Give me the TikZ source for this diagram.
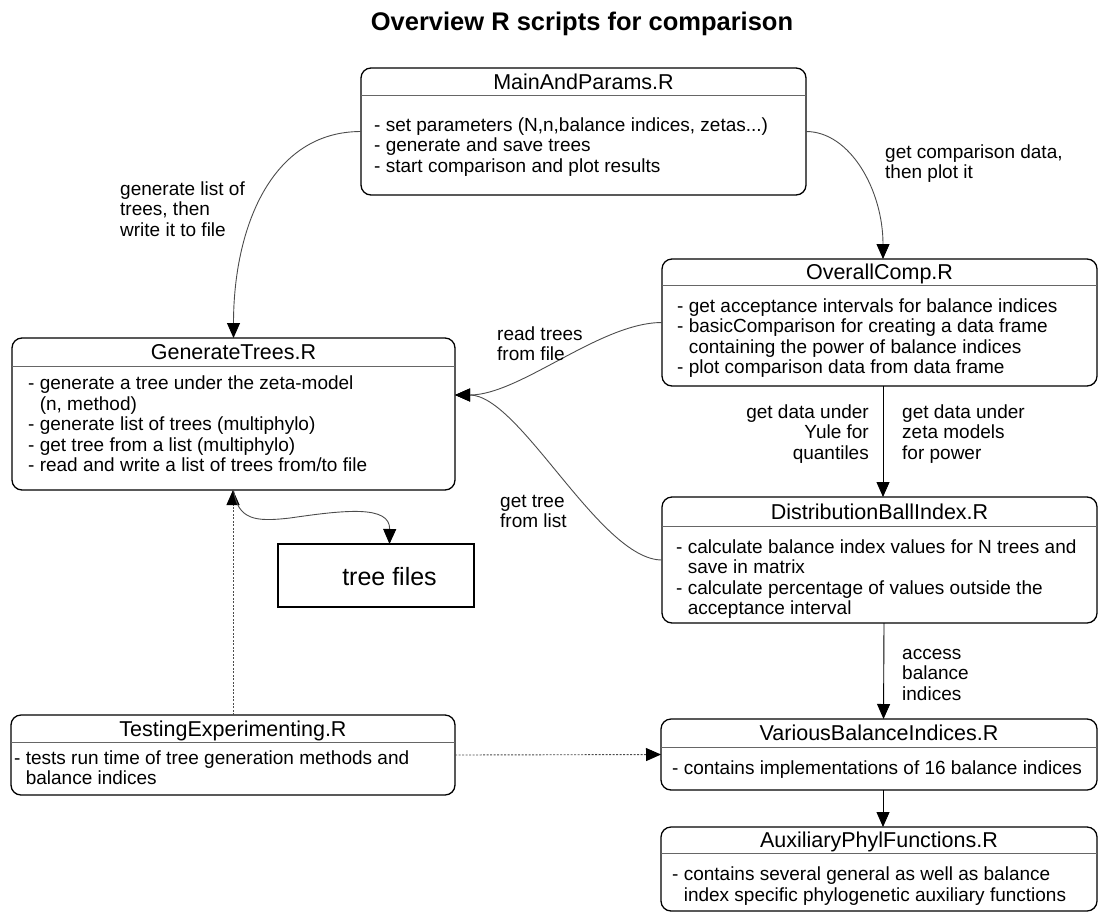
\documentclass[tikz,border=0pt]{standalone}
\usepackage{fontspec}
\setmainfont{Liberation Sans}
\usetikzlibrary{arrows.meta,calc}
\begin{document}
\begin{tikzpicture}[x=1pt,y=-1pt,
  box/.style={draw=black,line width=1.3pt,rounded corners=10pt,inner sep=0pt,outer sep=0pt,anchor=north west},
  filebox/.style={draw=black,line width=1.3pt,inner sep=0pt,outer sep=0pt,anchor=north west},
  sep/.style={draw=black!60,line width=0.9pt},
  ttl/.style={font=\fontsize{21.5}{24}\selectfont,anchor=base,inner sep=0pt},
  body/.style={font=\fontsize{19}{20.5}\selectfont,align=left,anchor=west,inner sep=0pt},
  lbl/.style={font=\fontsize{19}{20.5}\selectfont,align=left,anchor=north west,inner sep=0pt},
  lblr/.style={font=\fontsize{19}{20.5}\selectfont,align=right,anchor=north east,inner sep=0pt},
  tip/.style={-{Triangle[length=15pt,width=13pt,color=black]}},
  arr/.style={draw=black,line width=0.9pt,tip},
  carr/.style={draw=black!70,line width=0.9pt,tip},
  darr/.style={draw=black!70,line width=0.9pt,dash pattern=on 2pt off 1.5pt,tip},
]
\useasboundingbox (0,0) rectangle (1099,913);
\newcommand{\ind}{\hphantom{- }}

\node[font=\bfseries\fontsize{25.5}{28}\selectfont,anchor=base,inner sep=0pt] (title) at (582,30) {Overview R scripts for comparison};

% MainAndParams
\node[box,minimum width=445pt,minimum height=127pt] (main) at (361,68) {};
\draw[sep] (361,95) -- (806,95);
\node[ttl] (mainT) at (583.5,89.2) {MainAndParams.R};
\node[body] (mainB) at (374,147.7) {\strut- set parameters (N,n,balance indices, zetas...)\\\strut- generate and save trees\\\strut- start comparison and plot results};

% GenerateTrees
\node[box,minimum width=443pt,minimum height=152pt] (gen) at (12,338) {};
\draw[sep] (12,366) -- (455,366);
\node[ttl] (genT) at (233.5,359.7) {GenerateTrees.R};
\node[body] (genB) at (28,426.7) {\strut- generate a tree under the zeta-model\\\strut\ind(n, method)\\\strut- generate list of trees (multiphylo)\\\strut- get tree from a list (multiphylo)\\\strut- read and write a list of trees from/to file};

% OverallComp
\node[box,minimum width=435pt,minimum height=127pt] (overall) at (662,259) {};
\draw[sep] (662,285) -- (1097,285);
\node[ttl] (overallT) at (879.5,279.7) {OverallComp.R};
\node[body] (overallB) at (677,338.7) {\strut- get acceptance intervals for balance indices\\\strut- basicComparison for creating a data frame\\\strut\ind containing the power of balance indices\\\strut- plot comparison data from data frame};

% DistributionBallIndex
\node[box,minimum width=435pt,minimum height=126pt] (dist) at (662,497) {};
\draw[sep] (662,526) -- (1097,526);
\node[ttl] (distT) at (879.5,519.2) {DistributionBallIndex.R};
\node[body] (distB) at (676,579.7) {\strut- calculate balance index values for N trees and\\\strut\ind save in matrix\\\strut- calculate percentage of values outside the\\\strut\ind acceptance interval};

% VariousBalanceIndices
\node[box,minimum width=436pt,minimum height=71pt] (various) at (661,719) {};
\draw[sep] (661,747) -- (1097,747);
\node[ttl] (variousT) at (879,740.7) {VariousBalanceIndices.R};
\node[body] (variousB) at (672,770.7) {\strut- contains implementations of 16 balance indices};

% AuxiliaryPhylFunctions
\node[box,minimum width=436pt,minimum height=84pt] (aux) at (661,827) {};
\draw[sep] (661,853) -- (1097,853);
\node[ttl] (auxT) at (879,847.7) {AuxiliaryPhylFunctions.R};
\node[body] (auxB) at (672,886.7) {\strut- contains several general as well as balance\\\strut\ind index specific phylogenetic auxiliary functions};

% TestingExperimenting
\node[box,minimum width=444pt,minimum height=80pt] (test) at (11,715) {};
\draw[sep] (11,742) -- (455,742);
\node[ttl] (testT) at (233,736.2) {TestingExperimenting.R};
\node[body] (testB) at (14,770.2) {\strut- tests run time of tree generation methods and\\\strut\ind balance indices};

% tree files
\node[filebox,minimum width=196pt,minimum height=63pt] (tree) at (278,544) {};
\node[font=\fontsize{25}{28}\selectfont,anchor=base,inner sep=0pt] (treeT) at (389.5,585) {tree files};

% connectors
\draw[carr] (main.west) .. controls (270,131.5) and (233.5,230) .. (gen.north);
\draw[carr] (main.east) .. controls (850,131.5) and (883,190) .. ([xshift=3.5pt]overall.north);
\draw[carr] (overall.west) .. controls (600,322.5) and (520,395) .. ([yshift=19pt]gen.east);
\draw[carr] (dist.west) .. controls (600,560) and (520,395) .. ([yshift=19pt]gen.east);
\draw[arr] ([xshift=3.5pt]overall.south) -- ([xshift=3.5pt]dist.north);
\draw[arr] ([xshift=4.5pt]dist.south) -- ([xshift=4.5pt]various.north);
\draw[arr] ([xshift=4pt]various.south) -- ([xshift=4pt]aux.north);
\draw[darr] (test.east) -- (various.west);
\draw[darr] (test.north) -- (test.north |- gen.south);
\draw[carr] (gen.south) .. controls (238,520) and (255,522) .. (290,518) .. controls (345,510) and (390,505) .. (tree.north -| treeT.base);

% labels
\node[lbl] (l1) at (120,180.65) {\strut generate list of\\\strut trees, then\\\strut write it to file};
\node[lbl] (l2) at (885,143.65) {\strut get comparison data,\\\strut then plot it};
\node[lbl] (l3) at (497,325.65) {\strut read trees\\\strut from file};
\node[lbl] (l4) at (500,492.65) {\strut get tree\\\strut from list};
\node[lblr] (l5) at (869,403.65) {\strut get data under\\\strut Yule for\\\strut quantiles};
\node[lbl] (l6) at (902,403.65) {\strut get data under\\\strut zeta models\\\strut for power};
\node[lbl] (l7) at (902,644.65) {\strut access\\\strut balance\\\strut indices};
\end{tikzpicture}
\end{document}
